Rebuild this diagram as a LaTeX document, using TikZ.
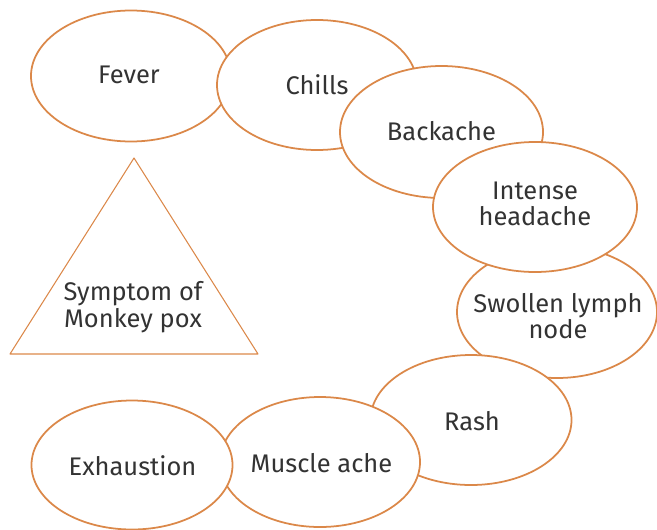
\documentclass[tikz,border=0pt]{standalone}
\usepackage{fontspec}
\setmainfont{Fira Sans}
\usepackage{tikz}
\usetikzlibrary{shapes.geometric}
\usepackage{xcolor}
\definecolor{poxorange}{HTML}{DB8849}
\definecolor{poxtext}{HTML}{333333}

\begin{document}
\begin{tikzpicture}[font=\fontsize{14.5}{15}\selectfont,line cap=round,
  symptom/.style={ellipse,draw=poxorange,line width=1pt,fill=white,inner sep=0pt,
    minimum width=4cm,minimum height=2.6cm},
  symptomtext/.style={text=poxtext,align=center,inner sep=0pt}]
\useasboundingbox (0,0) rectangle (13.14,10.58);
\node[symptom,minimum height=2.62cm] (fever) at (2.62,9.06) {};
\node[symptomtext] (fevertext) at (2.58,9.08) {Fever};
\node[symptom] (chills) at (6.34,8.88) {};
\node[symptomtext] (chillstext) at (chills) {Chills};
\node[symptom,minimum width=4.06cm,minimum height=2.64cm] (backache) at (8.83,7.94) {};
\node[symptomtext] (backachetext) at (8.83,7.96) {Backache};
\node[symptom,minimum height=2.64cm] (lymph) at (11.14,4.34) {};
\node[symptomtext] (lymphtext) at (11.16,4.26) {Swollen lymph\\node};
\node[symptom,minimum width=4.08cm] (headache) at (10.70,6.44) {};
\node[symptomtext] (headachetext) at (10.70,6.50) {Intense\\headache};
\node[symptom,minimum width=4.02cm] (rash) at (9.42,2.18) {};
\node[symptomtext] (rashtext) at (9.44,2.16) {Rash};
\node[symptom] (muscle) at (6.40,1.34) {};
\node[symptomtext] (muscletext) at (6.43,1.32) {Muscle ache};
\node[symptom,minimum width=4.02cm,minimum height=2.58cm] (exhaustion) at (2.64,1.28) {};
\node[symptomtext] (exhaustiontext) at (2.65,1.26) {Exhaustion};
\draw[poxorange,line width=0.6pt,line join=round] (2.68,7.42) -- (5.16,3.50) -- (0.20,3.50) -- cycle;
\node[symptomtext] (monkeypox) at (2.66,4.44) {Symptom of\\Monkey pox};
\end{tikzpicture}
\end{document}
